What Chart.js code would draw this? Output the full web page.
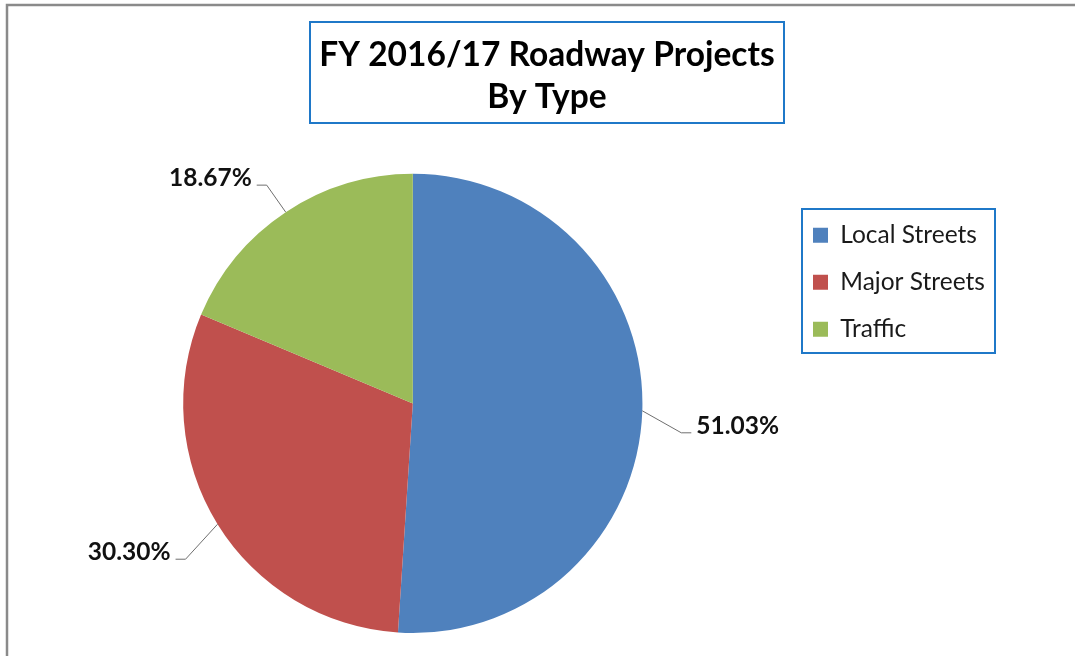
<!DOCTYPE html>
<html>
<head>
<meta charset="utf-8">
<title>FY 2016/17 Roadway Projects By Type</title>
<script src="https://cdn.jsdelivr.net/npm/chart.js@4.4.1/dist/chart.umd.min.js"></script>
<style>
  html, body { margin: 0; padding: 0; background: #fff; }
  #wrap { width: 1075px; height: 656px; }
</style>
</head>
<body>
<div id="wrap"><canvas id="roadwayPie"></canvas></div>
<script>
//chart data
const projectTypes = ['Local Streets', 'Major Streets', 'Traffic'];
const projectShares = [51.03, 30.30, 18.67];
const chartTitle = ['FY 2016/17 Roadway Projects', 'By Type'];

//where the moved title / legend boxes sit (like a hand placed excel layout)
const titleBox = { x: 310, y: 22, w: 474, h: 101 };
const legendBox = { x: 802, y: 209, w: 193, h: 144 };

Chart.defaults.font.family = 'Lato';

//grey frame round the chart
const frame = {
    id: 'frame',
    beforeDraw(chart) {
        const ctx = chart.ctx;
        ctx.save();
        ctx.fillStyle = '#fff';
        ctx.fillRect(0, 0, chart.width, chart.height);
        ctx.strokeStyle = '#8a8a8a';
        ctx.lineWidth = 2.5;
        ctx.beginPath();
        ctx.moveTo(7, chart.height);
        ctx.lineTo(7, 5);
        ctx.lineTo(chart.width, 5);
        ctx.stroke();
        ctx.restore();
    }
};

//move title + legend, then draw the blue boxes round them
const boxes = {
    id: 'boxes',
    afterLayout(chart) {
        const t = chart.titleBlock;
        t.left = titleBox.x;
        t.right = titleBox.x + titleBox.w;
        t.width = titleBox.w;

        const lg = chart.legend;
        const pad = lg.options.labels.padding;
        lg.left = legendBox.x + 11 - pad;
        lg.right = lg.left + lg.width;
        lg.top = legendBox.y + 14 - pad;
    },
    afterDraw(chart) {
        const ctx = chart.ctx;
        ctx.save();
        ctx.strokeStyle = '#1f78c8';
        ctx.lineWidth = 2;
        ctx.strokeRect(titleBox.x, titleBox.y, titleBox.w, titleBox.h);
        ctx.strokeRect(legendBox.x, legendBox.y, legendBox.w, legendBox.h);
        ctx.restore();
    }
};

//percent labels with leader lines
const leaderLabels = {
    id: 'leaderLabels',
    afterDatasetsDraw(chart, args, opts) {
        const ctx = chart.ctx;
        const values = chart.data.datasets[0].data;
        const arcs = chart.getDatasetMeta(0).data;
        ctx.save();
        ctx.font = 'bold 24.5px Lato';
        ctx.strokeStyle = '#6f6f6f';
        ctx.lineWidth = 1;
        ctx.fillStyle = '#111';
        ctx.textBaseline = 'alphabetic';
        arcs.forEach((arc, i) => {
            const p = arc.getProps(['x', 'y', 'startAngle', 'endAngle', 'outerRadius'], true);
            const mid = (p.startAngle + p.endAngle) / 2;
            const x0 = p.x + Math.cos(mid) * p.outerRadius;
            const y0 = p.y + Math.sin(mid) * p.outerRadius;
            const x1 = x0 + opts.elbows[i][0];
            const y1 = y0 + opts.elbows[i][1];
            const dir = x1 < p.x ? -1 : 1;
            const x2 = x1 + dir * opts.tail;
            ctx.beginPath();
            ctx.moveTo(x0, y0);
            ctx.lineTo(x1, y1);
            ctx.lineTo(x2, y1);
            ctx.stroke();
            ctx.textAlign = dir < 0 ? 'right' : 'left';
            ctx.fillText(values[i].toFixed(2) + '%', x2 + dir * opts.gap, y1 + 1);
        });
        ctx.restore();
    }
};

const roadwayPie = () => {
    var ctx = document.getElementById('roadwayPie').getContext('2d');
    var chart = new Chart(ctx, {
        type: 'pie',
        data: {
            labels: projectTypes,
            datasets: [{
                data: projectShares,
                backgroundColor: ['#4f81bd', '#c0504d', '#9bbb59'],
                borderWidth: 0,
                hoverOffset: 0
            }]
        },
        options: {
            responsive: true,
            maintainAspectRatio: false,
            animation: false,
            events: [],
            layout: {
                padding: { top: 22, left: 0, right: 45, bottom: 23 }
            },
            plugins: {
                title: {
                    display: true,
                    text: chartTitle,
                    color: '#000',
                    font: { size: 33.5, weight: 'bold', lineHeight: 1.25 },
                    padding: { top: 12, bottom: 56 }
                },
                legend: {
                    position: 'right',
                    fullSize: false,
                    align: 'start',
                    labels: {
                        color: '#1a1a1a',
                        font: { size: 24.5 },
                        textAlign: 'left',
                        boxWidth: 15,
                        boxHeight: 15,
                        padding: 22.5
                    }
                },
                tooltip: { enabled: false },
                leaderLabels: {
                    elbows: [[39, 22], [-32, 35], [-19, -27]],
                    tail: 10,
                    gap: 5
                }
            }
        },
        plugins: [frame, boxes, leaderLabels]
    });
};

roadwayPie()
</script>
</body>
</html>
